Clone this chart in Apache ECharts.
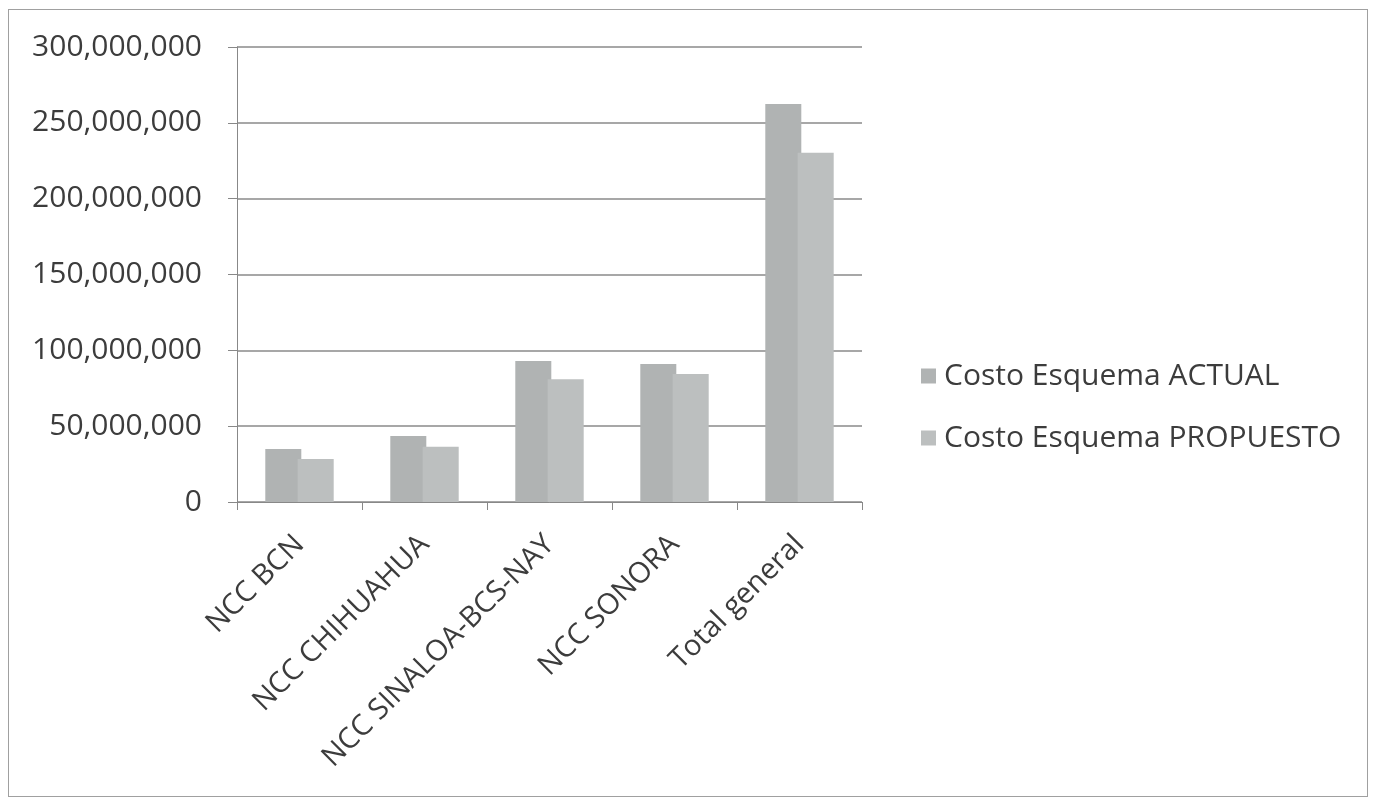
<!DOCTYPE html>
<html>
<head>
<meta charset="utf-8">
<script src="https://cdn.jsdelivr.net/npm/echarts@6/dist/echarts.min.js"></script>
<style>
html,body{margin:0;padding:0;background:#fff;}
#frame{position:absolute;left:8px;top:9px;width:1360px;height:788px;border:1px solid #a0a0a0;box-sizing:border-box;}
#chart{position:absolute;left:0;top:0;width:1375px;height:801px;}
</style>
</head>
<body>
<div id="frame"></div>
<div id="chart"></div>
<script>
const categories = ['NCC BCN', 'NCC CHIHUAHUA', 'NCC SINALOA-BCS-NAY', 'NCC SONORA', 'Total general'];
const seriesNames = ['Costo Esquema ACTUAL', 'Costo Esquema PROPUESTO'];
const actualValues = [35000000, 43500000, 93000000, 91000000, 262500000];
const propuestoValues = [28400000, 36500000, 81000000, 84400000, 230300000];
const yTicks = { min: 0, max: 300000000, interval: 50000000 };

const chart = echarts.init(document.getElementById('chart'));
const font = '"Open Sans", "Noto Sans", sans-serif';
chart.setOption({
  backgroundColor: 'transparent',
  animation: false,
  grid: { left: 237, right: 513, top: 47, bottom: 299, containLabel: false },
  legend: {
    orient: 'vertical',
    left: 916, top: 356,
    itemWidth: 15, itemHeight: 15, itemGap: 32,
    icon: 'rect',
    textStyle: { fontFamily: font, fontSize: 30, color: '#3c3c3c', padding: [0, 0, 0, 3] },
    data: seriesNames
  },
  xAxis: {
    type: 'category',
    data: categories,
    axisLine: { lineStyle: { color: '#888', width: 1 } },
    axisTick: { show: true, alignWithLabel: false, length: 8, lineStyle: { color: '#888' } },
    axisLabel: { rotate: 45, fontFamily: font, fontSize: 29, color: '#3c3c3c', margin: 38, interval: 0 }
  },
  yAxis: {
    type: 'value',
    min: yTicks.min, max: yTicks.max, interval: yTicks.interval,
    axisLine: { show: true, lineStyle: { color: '#888', width: 1 } },
    axisTick: { show: true, length: 9, lineStyle: { color: '#888' } },
    splitLine: { lineStyle: { color: '#8a8a8a', width: 1.5 } },
    axisLabel: { fontFamily: font, fontSize: 30, color: '#3c3c3c', margin: 35,
      formatter: v => v.toLocaleString('en-US') }
  },
  series: [
    { name: seriesNames[0], type: 'bar', data: actualValues, barWidth: 36, barGap: '-10%',
      itemStyle: { color: '#b0b3b3' } },
    { name: seriesNames[1], type: 'bar', data: propuestoValues, barWidth: 36,
      itemStyle: { color: '#bcbfbf', borderColor: '#a9acac', borderWidth: 0 } }
  ]
});
</script>
</body>
</html>
